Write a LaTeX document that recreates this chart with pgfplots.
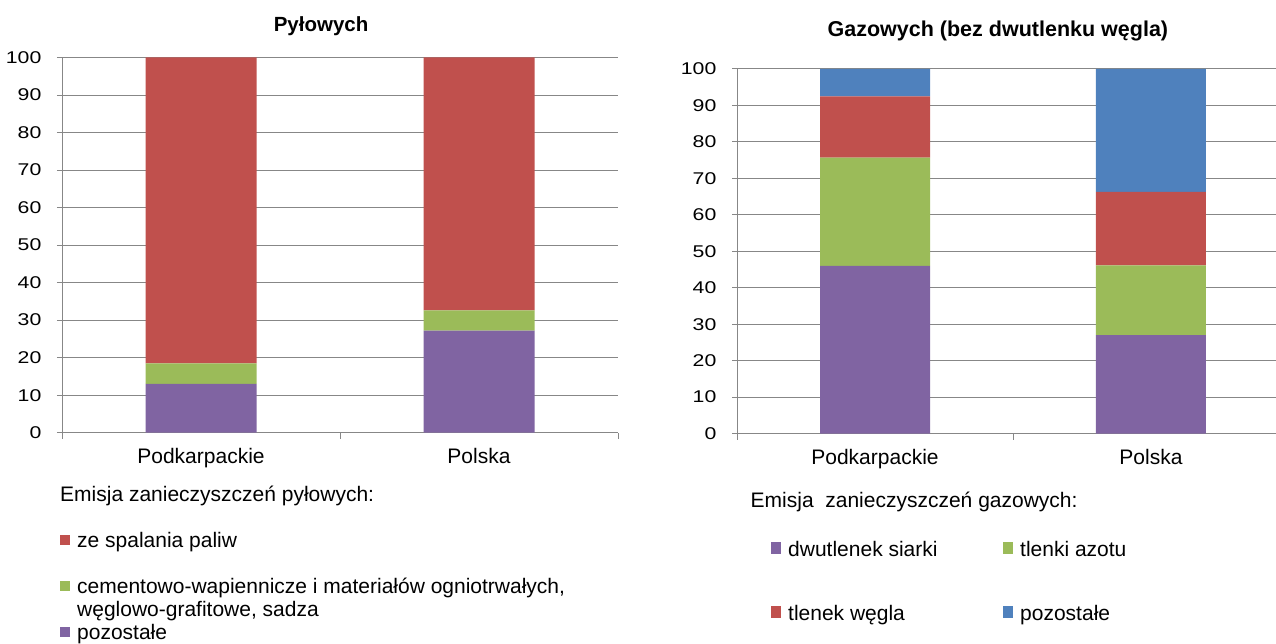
\documentclass[border=0pt]{standalone}
\usepackage{fontspec}
\setmainfont{Liberation Sans}
\usepackage{pgfplots}
\pgfplotsset{compat=1.18}
\definecolor{cPurple}{HTML}{8064A2}
\definecolor{cGreen}{HTML}{9BBB59}
\definecolor{cRed}{HTML}{C0504D}
\definecolor{cBlue}{HTML}{4F81BD}
\definecolor{gridgray}{HTML}{878787}
\pgfplotsset{
  common/.style={
    scale only axis,
    ybar stacked,
    ymin=0, ymax=100,
    xmin=-0.5,
    enlargelimits=false,
    axis x line*=bottom,
    axis y line*=left,
    axis line style={draw=gridgray, line width=1pt},
    ytick={0,10,...,100},
    xtick={0,1},
    xticklabels={Podkarpackie,Polska},
    minor xtick={-0.5,0.5,1.5},
    tick align=outside,
    major tick length=5pt,
    minor tick length=6pt,
    tick style={draw=gridgray, line width=1pt},
    major x tick style={draw=none},
    ymajorgrids,
    major grid style={draw=gridgray, line width=1pt},
    /pgf/number format/assume math mode=true,
    yticklabel style={font=\fontsize{17}{20}\selectfont, xscale=1.25, xshift=-9pt},
    xticklabel style={font=\fontsize{21}{25}\selectfont, yshift=-7pt},
    title style={font=\bfseries\fontsize{20.5}{24}\selectfont, anchor=base, yshift=-6pt},
    every axis plot/.append style={draw=none},
    legend cell align=left,
  },
}
\begin{document}
\begin{tikzpicture}[x=1pt,y=1pt]
\useasboundingbox (0,0) rectangle (1276,643);
% ---------------- Left chart ----------------
\begin{axis}[common,
  at={(62pt,210.3pt)}, anchor=south west,
  width=556pt, height=375.2pt,
  xmax=1.5,
  bar width=111pt,
  title={Pyłowych},
  title style={at={(axis description cs:0.466,1.068)}},
  legend image code/.code={\fill[#1] (0pt,-1pt) rectangle (10pt,9pt);},
  legend style={draw=none, fill=none, inner sep=0pt, row sep=0pt, column sep=7pt,
    font=\fontsize{21}{25}\selectfont,
    nodes={inner sep=0pt, text height=15pt, text depth=8pt},
    at={(axis description cs:-0.0036,-0.1421)}, anchor=north west},
]
\addplot[fill=cPurple, forget plot] coordinates {(0,13.0) (1,27.2)};
\addplot[fill=cGreen, forget plot] coordinates {(0,5.5) (1,5.4)};
\addplot[fill=cRed, forget plot] coordinates {(0,81.5) (1,67.4)};
\addlegendimage{empty legend}
\addlegendentry{\hspace*{-17pt}Emisja zanieczyszczeń pyłowych:}
\addlegendimage{empty legend}
\addlegendentry{\mbox{}}
\addlegendimage{fill=cRed}
\addlegendentry{ze spalania paliw}
\addlegendimage{empty legend}
\addlegendentry{\mbox{}}
\addlegendimage{fill=cGreen}
\addlegendentry{cementowo-wapiennicze i materiałów ogniotrwałych,}
\addlegendimage{empty legend}
\addlegendentry{węglowo-grafitowe, sadza}
\addlegendimage{fill=cPurple}
\addlegendentry{pozostałe}
\end{axis}
% ---------------- Right chart ----------------
\begin{axis}[common,
  at={(737pt,209.5pt)}, anchor=south west,
  width=539pt, height=364.5pt,
  xmax=1.453,
  bar width=110pt,
  title={Gazowych (bez dwutlenku węgla)},
  title style={at={(axis description cs:0.484,1.0886)}, font=\bfseries\fontsize{21.5}{25}\selectfont},
  legend columns=2,
  legend image code/.code={\fill[#1] (0pt,-0.5pt) rectangle (10pt,11.5pt);},
  legend style={draw=none, fill=none, inner sep=0pt, row sep=0pt, column sep=7pt,
    font=\fontsize{21}{25}\selectfont,
    nodes={inner sep=0pt, text height=10pt, text depth=5pt},
    at={(axis description cs:0.0631,-0.1742)}, anchor=north west},
]
\addplot[fill=cPurple, forget plot] coordinates {(0,46.0) (1,27.0)};
\addplot[fill=cGreen, forget plot] coordinates {(0,29.7) (1,19.1)};
\addplot[fill=cRed, forget plot] coordinates {(0,16.8) (1,20.2)};
\addplot[fill=cBlue, forget plot] coordinates {(0,7.5) (1,33.7)};
\addlegendimage{empty legend}
\addlegendentry{\makebox[0pt][l]{\hspace*{-38pt}Emisja\ \ zanieczyszczeń gazowych:}}
\addlegendimage{empty legend}
\addlegendentry{\mbox{}}
\addlegendimage{empty legend}
\addlegendentry{\mbox{}}
\addlegendimage{empty legend}
\addlegendentry{\mbox{}}
\addlegendimage{empty legend}
\addlegendentry{\mbox{}}
\addlegendimage{empty legend}
\addlegendentry{\mbox{}}
\addlegendimage{fill=cPurple}
\addlegendentry{\makebox[208pt][l]{dwutlenek siarki}}
\addlegendimage{fill=cGreen}
\addlegendentry{tlenki azotu}
\addlegendimage{empty legend}
\addlegendentry{\mbox{}}
\addlegendimage{empty legend}
\addlegendentry{\mbox{}}
\addlegendimage{empty legend}
\addlegendentry{\mbox{}}
\addlegendimage{empty legend}
\addlegendentry{\mbox{}}
\addlegendimage{empty legend}
\addlegendentry{\mbox{}}
\addlegendimage{empty legend}
\addlegendentry{\mbox{}}
\addlegendimage{fill=cRed}
\addlegendentry{\makebox[208pt][l]{tlenek węgla}}
\addlegendimage{fill=cBlue}
\addlegendentry{pozostałe}
\end{axis}
\end{tikzpicture}
\end{document}
